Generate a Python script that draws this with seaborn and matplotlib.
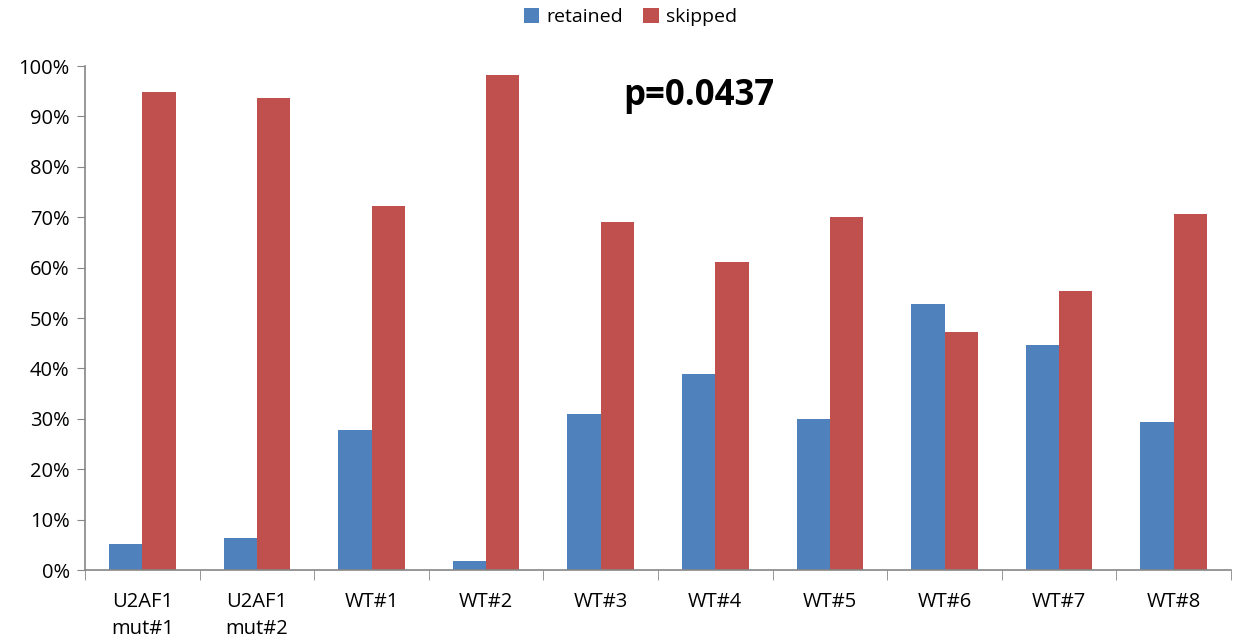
import pandas as pd
import matplotlib
matplotlib.use('Agg')
import matplotlib.pyplot as plt
import seaborn as sns
from matplotlib.ticker import PercentFormatter

# Dados
amostras = ['U2AF1\nmut#1', 'U2AF1\nmut#2', 'WT#1', 'WT#2', 'WT#3',
            'WT#4', 'WT#5', 'WT#6', 'WT#7', 'WT#8']
retained = [5.2, 6.3, 27.8, 1.8, 31.0, 38.9, 30.0, 52.8, 44.6, 29.4]
skipped = [94.8, 93.7, 72.2, 98.2, 69.0, 61.1, 70.0, 47.2, 55.4, 70.6]
p_valor = 'p=0.0437'

df = pd.DataFrame({'amostra': amostras * 2,
                   'valor': retained + skipped,
                   'tipo': ['retained'] * len(amostras) + ['skipped'] * len(amostras)})

sns.set_style('white')
plt.rcParams['font.family'] = ['Open Sans', 'DejaVu Sans']
plt.rcParams['text.color'] = 'black'
plt.rcParams['xtick.color'] = 'black'
plt.rcParams['ytick.color'] = 'black'

fig = plt.figure(figsize=(12.39, 6.43), dpi=100)
ax = fig.add_axes([85 / 1239, 73 / 643, 1146 / 1239, 504 / 643])

sns.barplot(data=df, x='amostra', y='valor', hue='tipo', ax=ax,
            palette=['#4F81BD', '#C0504D'], width=0.58, saturation=1,
            linewidth=0)

ax.set_ylim(0, 100)
ax.set_xlim(-0.5, len(amostras) - 0.5)
ax.set_yticks(range(0, 101, 10))
ax.yaxis.set_major_formatter(PercentFormatter(decimals=0))
ax.set_xlabel('')
ax.set_ylabel('')

for s in ['top', 'right']:
    ax.spines[s].set_visible(False)
for s in ['left', 'bottom']:
    ax.spines[s].set_color('#868686')
    ax.spines[s].set_linewidth(1.2)

ax.tick_params(axis='y', left=True, length=6, color='#868686', labelsize=14.5, pad=5)
ax.tick_params(axis='x', which='major', length=0, labelsize=14.5, pad=16)
for lbl in ax.get_xticklabels():
    lbl.set_linespacing(1.45)
ax.set_xticks([i - 0.5 for i in range(len(amostras) + 1)], minor=True)
ax.tick_params(axis='x', which='minor', bottom=True, length=7, color='#868686')

ax.text(0.536, 0.94, p_valor, transform=ax.transAxes, ha='center', va='center',
        fontsize=25, fontweight='bold')

ax.legend(loc='upper center', bbox_to_anchor=(0.476, 1.15), ncol=2, frameon=False,
          fontsize=14, handlelength=0.8, handleheight=0.8, columnspacing=1.0,
          handletextpad=0.4)

fig.savefig('out.png', dpi=100)
